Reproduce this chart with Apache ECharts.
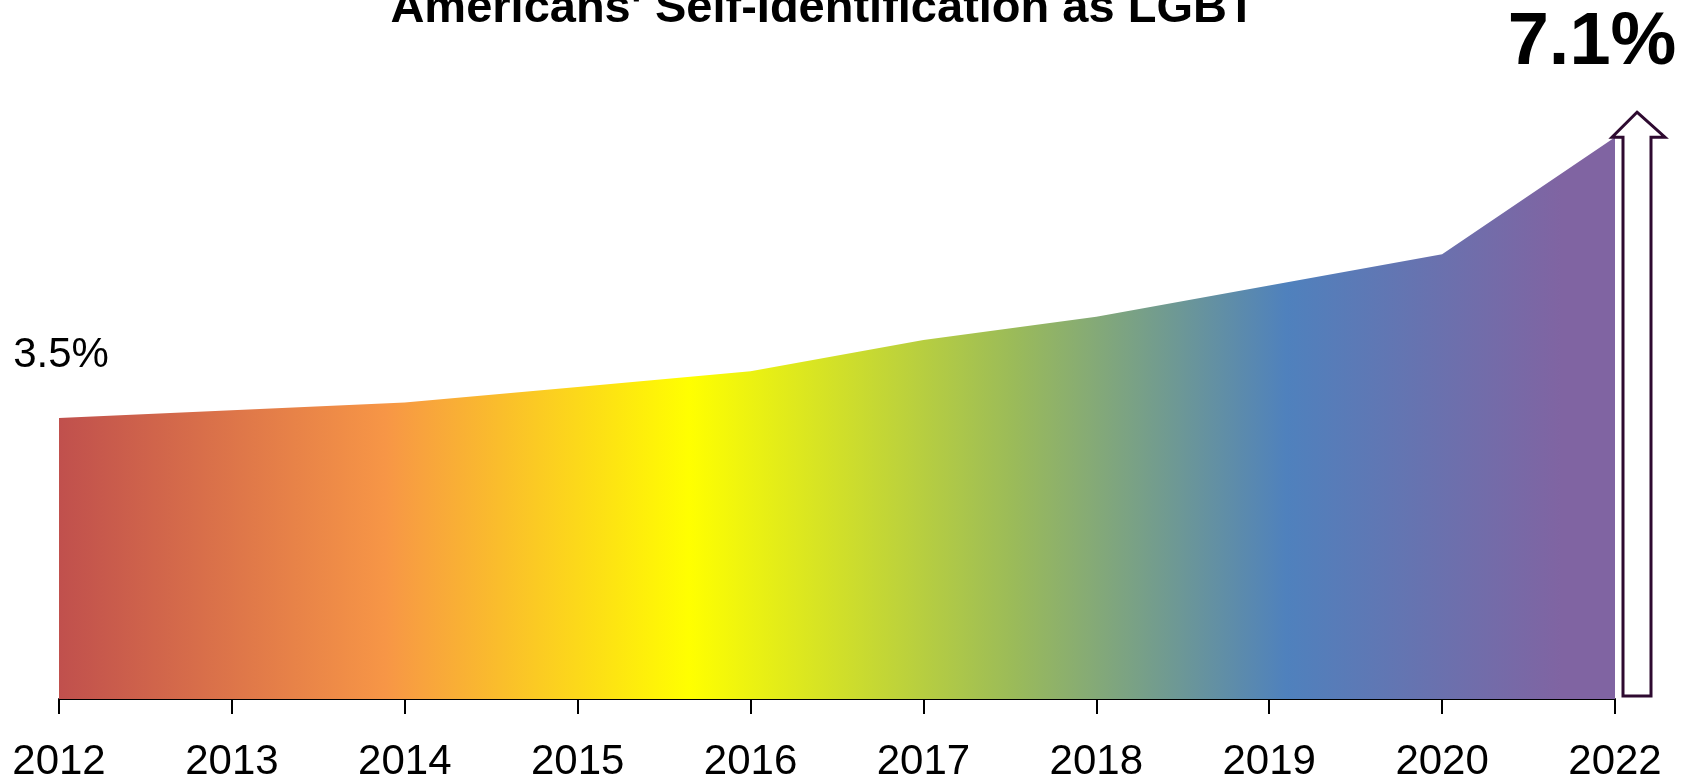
<!DOCTYPE html>
<html>
<head>
<meta charset="utf-8">
<script src="https://cdn.jsdelivr.net/npm/echarts@6/dist/echarts.min.js"></script>
<style>
html,body{margin:0;padding:0;background:#fff;}
#chart{width:1694px;height:783px;}
</style>
</head>
<body>
<div id="chart"></div>
<script>
const titleText = "Americans' Self-Identification as LGBT";
const years = ['2012','2013','2014','2015','2016','2017','2018','2019','2020','2022'];
const lgbtShare = [3.5, 3.6, 3.7, 3.9, 4.1, 4.5, 4.8, 5.2, 5.6, 7.1];
const firstLabel = '3.5%';
const lastLabel = '7.1%';

const FONT = "'Liberation Sans', Arial, sans-serif";
const chart = echarts.init(document.getElementById('chart'), null, {renderer: 'canvas'});

const Y_MIN = -0.1, Y_MAX = 8;

const option = {
  animation: false,
  backgroundColor: '#ffffff',
  grid: {left: 59, right: 79, top: 67, bottom: 81, containLabel: false},
  xAxis: {
    type: 'category',
    data: years,
    boundaryGap: false,
    axisLine: {show: true, onZero: false, lineStyle: {color: '#000', width: 2}},
    axisTick: {show: true, length: 15, lineStyle: {color: '#000', width: 2}},
    axisLabel: {show: true, color: '#000', fontFamily: FONT, fontSize: 42, margin: 42, interval: 0},
    splitLine: {show: false}
  },
  yAxis: {
    type: 'value', min: Y_MIN, max: Y_MAX, show: false,
    splitLine: {show: false}
  },
  series: [{
    type: 'line',
    data: lgbtShare,
    symbol: 'none',
    lineStyle: {width: 0, opacity: 0},
    areaStyle: {
      opacity: 1,
      origin: 'start',
      color: new echarts.graphic.LinearGradient(0, 0, 1, 0, [
        {offset: 0.0, color: '#c0504d'},
        {offset: 0.21, color: '#f79646'},
        {offset: 0.405, color: '#ffff00'},
        {offset: 0.613, color: '#9bbb59'},
        {offset: 0.789, color: '#4f81bd'},
        {offset: 0.966, color: '#8064a2'},
        {offset: 1.0, color: '#8064a2'}
      ])
    },
    z: 2
  }]
};
chart.setOption(option);

const p0 = chart.convertToPixel({xAxisIndex: 0, yAxisIndex: 0}, [0, lgbtShare[0]]);
const last = lgbtShare.length - 1;
const pL = chart.convertToPixel({xAxisIndex: 0, yAxisIndex: 0}, [last, lgbtShare[last]]);
const base = chart.convertToPixel({xAxisIndex: 0, yAxisIndex: 0}, [last, Y_MIN])[1];

const px = pL[0], py = pL[1];
chart.setOption({
  graphic: [
    {
      type: 'text', x: 823, y: 9, z: 10,
      style: {text: titleText, font: "bold 47px " + FONT, fill: '#000', align: 'center', verticalAlign: 'middle'}
    },
    {
      type: 'text', x: p0[0] + 2, y: p0[1] - 63, z: 10,
      style: {text: firstLabel, font: "42px " + FONT, fill: '#000', align: 'center', verticalAlign: 'middle'}
    },
    {
      type: 'text', x: px - 23, y: py - 94, z: 10,
      style: {text: lastLabel, font: "bold 74px " + FONT, fill: '#000', align: 'center', verticalAlign: 'middle'}
    },
    {
      type: 'polygon', z: 10,
      shape: {points: [
        [px + 22, py - 25], [px + 50, py], [px + 36, py], [px + 36, base - 3],
        [px + 8, base - 3], [px + 8, py], [px - 3, py]
      ]},
      style: {fill: '#ffffff', stroke: '#2e0a30', lineWidth: 3}
    }
  ]
});
</script>
</body>
</html>
